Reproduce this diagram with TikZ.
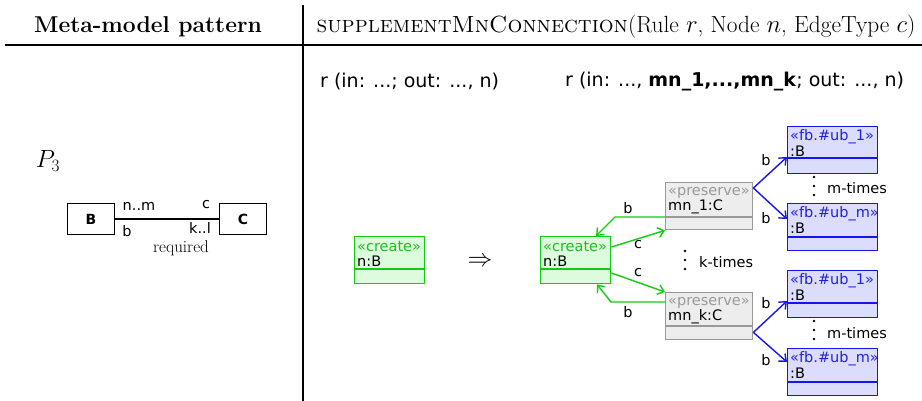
\documentclass[tikz,border=0pt]{standalone}
\usepackage{fontspec}
\newfontfamily\dv{DejaVu Sans}
\usetikzlibrary{arrows.meta,calc}
\definecolor{gfill}{HTML}{DDFBDD}
\definecolor{gline}{HTML}{11CC11}
\definecolor{gtext}{HTML}{22BB22}
\definecolor{pfill}{HTML}{EDEDED}
\definecolor{pline}{HTML}{999999}
\definecolor{ptext}{HTML}{999999}
\definecolor{bfill}{HTML}{DCDCFC}
\definecolor{bline}{HTML}{1515EE}
\definecolor{btext}{HTML}{2222DD}
\newcommand\umlcls[8]{% name, x, y, width, kind, stereo, label, sep
  \node[#5box, minimum width=#4pt, anchor=north west] (#1) at (#2,#3) {};
  \draw[#5line] ([yshift=-#8pt]#1.north west) -- ([yshift=-#8pt]#1.north east);
  \node[txt, #5stereo, anchor=west] (#1s) at ([xshift=3pt,yshift=-11pt]#1.north west) {#6};
  \node[txt, anchor=west] (#1n) at ([xshift=3pt,yshift=-25pt]#1.north west) {#7};
}
\newcommand\dotcol[1]{% three dots round a named coordinate
  \fill ([yshift=9pt]#1) circle (1.3pt);
  \fill (#1) circle (1.3pt);
  \fill ([yshift=-9pt]#1) circle (1.3pt);
}
\begin{document}
\begin{tikzpicture}[x=1pt,y=-1pt,
  txt/.style={inner sep=0pt, font=\dv\fontsize{14.5}{16}\selectfont},
  big/.style={inner sep=0pt, font=\dv\fontsize{19}{22}\selectfont},
  hdr/.style={inner sep=0pt, font=\fontsize{22.9}{26}\selectfont},
  gbox/.style={draw=gline, fill=gfill, line width=1.4pt, minimum height=47pt, inner sep=0pt},
  gline/.style={draw=gline, line width=1.4pt},
  gstereo/.style={text=gtext},
  pbox/.style={draw=pline, fill=pfill, line width=1.4pt, minimum height=47pt, inner sep=0pt},
  pline/.style={draw=pline, line width=1.4pt},
  pstereo/.style={text=ptext},
  bbox/.style={draw=bline, fill=bfill, line width=1.4pt, minimum height=47pt, inner sep=0pt},
  bline/.style={draw=bline, line width=1.4pt},
  bstereo/.style={text=btext},
  garr/.style={draw=gline, line width=1.4pt, -{Straight Barb[length=6pt,width=10pt]}},
  barr/.style={draw=bline, line width=1.4pt, -{Straight Barb[length=6pt,width=10pt]}},
  clsbox/.style={draw, line width=1.2pt, minimum width=47pt, minimum height=31pt, inner sep=0pt, font=\dv\bfseries\fontsize{14}{16}\selectfont},
]
\useasboundingbox (0,0) rectangle (922,401);
% header
\node[hdr] (h1) at (148,27) {\bfseries Meta-model pattern};
\node[hdr, font=\fontsize{23.4}{26}\selectfont] (h2) at (616,27) {\textsc{supplementMnConnection}(Rule $r$, Node $n$, EdgeType $c$)};
\coordinate (hl) at (5,45); \coordinate (hr) at (922,45);
\coordinate (vt) at (303,5); \coordinate (vb) at (303,401);
\draw[line width=1.8pt] (hl) -- (hr);
\draw[line width=1.8pt] (vt) -- (vb);
% left pattern
\node[hdr] (p3) at (48,161) {$P_3$};
\node[clsbox] (B) at (91,219) {B};
\node[clsbox] (C) at (243,219) {C};
\draw[line width=1.2pt] (B) -- (C);
\node[txt] (lnm) at (139,206) {n..m};
\node[txt] (lb) at (127,231) {b};
\node[txt] (lc) at (206,205) {c};
\node[txt] (lkl) at (200,228) {k..l};
\node[inner sep=0pt, font=\fontsize{17}{19}\selectfont] (req) at (181,248) {required};
% right texts
\node[big, anchor=west] (r1) at (320,82) {r (in: ...; out: ..., n)};
\node[big, anchor=west] (r2) at (565,82) {r (in: ..., \textbf{mn\_1,...,mn\_k}; out: ..., n)};
% LHS
\umlcls{cr1}{354}{236}{70}{g}{«create»}{n:B}{33}
\node[inner sep=0pt, font=\fontsize{28}{30}\selectfont] (impl) at (480,262) {$\Rightarrow$};
% RHS
\umlcls{cr2}{540}{236}{70}{g}{«create»}{n:B}{33}
\umlcls{pr1}{665}{182}{87}{p}{«preserve»}{mn\_1:C}{35}
\umlcls{pr2}{665}{292}{87}{p}{«preserve»}{mn\_k:C}{34}
\umlcls{fb1}{787}{126}{90}{b}{«fb.\#ub\_1»}{:B}{32}
\umlcls{fb2}{787}{203}{90}{b}{«fb.\#ub\_m»}{:B}{34}
\umlcls{fb3}{787}{270}{90}{b}{«fb.\#ub\_1»}{:B}{33}
\umlcls{fb4}{787}{348}{90}{b}{«fb.\#ub\_m»}{:B}{34}
% green connectors
\coordinate (gb1) at (615,217);
\coordinate (gb2) at (611,302);
\draw[garr] ([yshift=-35pt]pr1.north west) -- (gb1) -- ([xshift=56pt]cr2.north west);
\draw[garr] ([yshift=-11pt]cr2.north east) -- (pr1.south west);
\draw[garr] ([yshift=-37pt]cr2.north east) -- (pr2.north west);
\draw[garr] ([yshift=-10pt]pr2.north west) -- (gb2) -- ([xshift=57pt]cr2.south west);
\node[txt] (gl1) at (628,208) {b};
\node[txt] (gl2) at (638,245) {c};
\node[txt] (gl3) at (638,273) {c};
\node[txt] (gl4) at (628,312) {b};
\coordinate (kd) at (685,260);
\dotcol{kd}
\node[txt, anchor=west] (kt) at (699,262) {k-times};
% blue connectors
\draw[barr] ([yshift=-6pt]pr1.north east) -- ([yshift=-31pt]fb1.north west);
\draw[barr] ([yshift=-6pt]pr1.north east) -- ([yshift=-16pt]fb2.north west);
\draw[barr] ([yshift=8pt]pr2.south east) -- ([yshift=-31pt]fb3.north west);
\draw[barr] ([yshift=8pt]pr2.south east) -- ([yshift=-14pt]fb4.north west);
\node[txt] (bl1) at (766,160) {b};
\node[txt] (bl2) at (766,218) {b};
\node[txt] (bl3) at (766,303) {b};
\node[txt] (bl4) at (766,360) {b};
\coordinate (md1) at (814,186);
\dotcol{md1}
\node[txt, anchor=west] (mt1) at (827,188) {m-times};
\coordinate (md2) at (814,330);
\dotcol{md2}
\node[txt, anchor=west] (mt2) at (827,333) {m-times};
\end{tikzpicture}
\end{document}
